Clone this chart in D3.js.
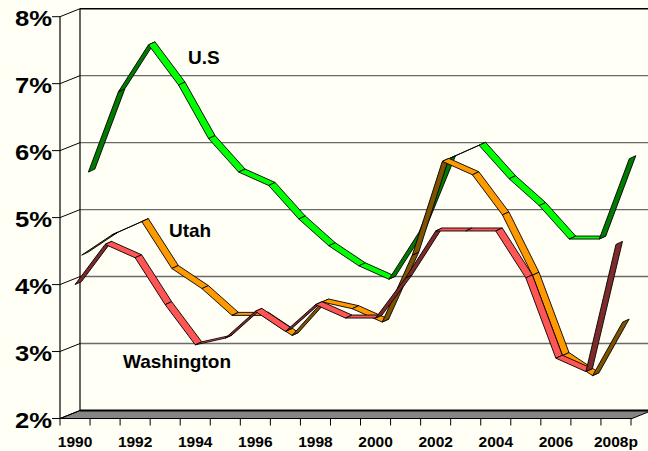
<!DOCTYPE html>
<html>
<head>
<meta charset="utf-8">
<script src="https://cdn.jsdelivr.net/npm/d3@7"></script>
<style>
  html, body { margin: 0; padding: 0; background: #FFFFF6; }
  svg { display: block; }
  text { font-family: "Liberation Sans", Arial, sans-serif; font-weight: bold; fill: #000; }
</style>
</head>
<body>
<svg id="chart" width="648" height="451"></svg>
<script>
// ---- data ----
const categories = ["1990","1991","1992","1993","1994","1995","1996","1997","1998","1999",
                    "2000","2001","2002","2003","2004","2005","2006","2007","2008p"];
const tickLabels = ["1990","1992","1994","1996","1998","2000","2002","2004","2006","2008p"];
const yTicks = [2, 3, 4, 5, 6, 7, 8];
const seriesNames = ["Washington", "Utah", "U.S"];
const washington = [4.0, 4.6, 4.4, 3.7, 3.1, 3.2, 3.6, 3.3, 3.7, 3.5, 3.5, 4.1, 4.8, 4.8, 4.8, 4.1, 2.9, 2.7, 4.6];
const utah       = [4.4, 4.7, 4.9, 4.2, 3.9, 3.5, 3.5, 3.2, 3.7, 3.6, 3.4, 4.4, 5.8, 5.6, 5.0, 4.1, 2.9, 2.6, 3.4];
const us         = [5.6, 6.8, 7.5, 6.9, 6.1, 5.6, 5.4, 4.9, 4.5, 4.2, 4.0, 4.7, 5.8, 6.0, 5.5, 5.1, 4.6, 4.6, 5.8];

// ---- layout ----
const svg = d3.select("#chart");
const W = 648, H = 451;
const front = {left: 60, right: 632, top: 16.7, bottom: 418.5};
const depth = {dx: 20, dy: -8};       // front-to-back offset of the plot box
const ribbon = {dx: 6.5, dy: -3.0};   // thickness of a ribbon in depth

const x = d3.scaleBand().domain(categories).range([front.left, front.right - 1]).padding(0);
const y = d3.scaleLinear().domain([2, 8]).range([front.bottom, front.top]);
const xc = c => x(c) + x.bandwidth() / 2;

// floor
const floorPts = [
  [front.left, front.bottom], [front.right, front.bottom],
  [front.right + depth.dx, front.bottom + depth.dy], [front.left + depth.dx, front.bottom + depth.dy]
];
svg.append("polygon")
  .attr("points", floorPts.map(p => p.join(",")).join(" "))
  .attr("fill", "#858585").attr("stroke", "#000").attr("stroke-width", 1);

// back wall gridlines
const g = svg.append("g");
yTicks.forEach(v => {
  const yb = y(v) + depth.dy;
  g.append("line")
    .attr("x1", front.left + depth.dx).attr("x2", W + 10)
    .attr("y1", yb).attr("y2", yb)
    .attr("stroke", v === 8 || v === 2 ? "#000" : "#6a6a6a")
    .attr("stroke-width", v === 2 ? 2 : 1.4);
  // side wall diagonal
  g.append("line")
    .attr("x1", front.left).attr("y1", y(v))
    .attr("x2", front.left + depth.dx).attr("y2", yb)
    .attr("stroke", "#000").attr("stroke-width", 1);
  // outward tick
  g.append("line")
    .attr("x1", front.left - 8).attr("x2", front.left)
    .attr("y1", y(v)).attr("y2", y(v))
    .attr("stroke", "#000").attr("stroke-width", 1);
});
// back wall vertical + front vertical axis
g.append("line")
  .attr("x1", front.left + depth.dx).attr("x2", front.left + depth.dx)
  .attr("y1", y(8) + depth.dy).attr("y2", y(2) + depth.dy)
  .attr("stroke", "#000").attr("stroke-width", 1.2);
g.append("line")
  .attr("x1", front.left).attr("x2", front.left)
  .attr("y1", y(8)).attr("y2", y(2))
  .attr("stroke", "#000").attr("stroke-width", 1.2);

// y labels
svg.append("g").selectAll("text").data(yTicks).join("text")
  .attr("x", 52).attr("y", v => y(v) + 2)
  .attr("text-anchor", "end").attr("dominant-baseline", "central")
  .attr("font-size", 22)
  .attr("textLength", 37).attr("lengthAdjust", "spacingAndGlyphs")
  .text(v => v + "%");

// x axis ticks
const xTickPos = categories.map(c => x(c)).concat([x(categories[categories.length - 1]) + x.bandwidth()]);
svg.append("g").selectAll("line").data(xTickPos).join("line")
  .attr("x1", d => d).attr("x2", d => d)
  .attr("y1", front.bottom).attr("y2", front.bottom + 7)
  .attr("stroke", "#000").attr("stroke-width", 1);
svg.append("g").selectAll("text").data(tickLabels).join("text")
  .attr("x", c => xc(c === "2008p" ? "2008p" : c))
  .attr("y", 447)
  .attr("text-anchor", "middle")
  .attr("font-size", 15.5)
  .text(c => c);

// ribbons: back row first
const series = [
  {name: "U.S", values: us, row: 2, bright: "#00FF00", dark: "#007A00"},
  {name: "Utah", values: utah, row: 1, bright: "#FF9900", dark: "#7F5200"},
  {name: "Washington", values: washington, row: 0, bright: "#FF5555", dark: "#7F2A2A"}
];
const rowStep = {dx: depth.dx / 3, dy: depth.dy / 3};

series.forEach(s => {
  const ox = rowStep.dx * s.row, oy = rowStep.dy * s.row;
  const pts = s.values.map((v, i) => [xc(categories[i]) + ox, y(v) + oy]);
  const segs = d3.pairs(pts);
  const gs = svg.append("g");
  segs.forEach(([p0, p1]) => {
    const sx = p1[0] - p0[0], sy = p1[1] - p0[1];
    const cross = sx * ribbon.dy - sy * ribbon.dx;
    const quad = [p0, p1, [p1[0] + ribbon.dx, p1[1] + ribbon.dy], [p0[0] + ribbon.dx, p0[1] + ribbon.dy]];
    gs.append("polygon")
      .attr("points", quad.map(p => p.join(",")).join(" "))
      .attr("fill", cross < 0 ? s.bright : s.dark)
      .attr("stroke", "#000").attr("stroke-width", 0.9)
      .attr("stroke-linejoin", "round");
  });
});

// series labels
const labels = [
  {text: "U.S", x: 188, y: 64},
  {text: "Utah", x: 169, y: 237},
  {text: "Washington", x: 123, y: 368}
];
svg.append("g").selectAll("text").data(labels).join("text")
  .attr("x", d => d.x).attr("y", d => d.y)
  .attr("font-size", 19)
  .text(d => d.text);
</script>
</body>
</html>
